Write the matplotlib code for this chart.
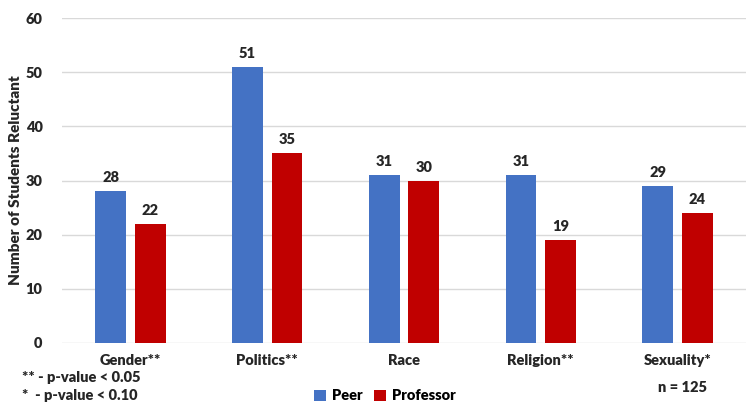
import numpy as np
import matplotlib.pyplot as plt

categories = ['Gender**', 'Politics**', 'Race', 'Religion**', 'Sexuality*']
peer = [28, 51, 31, 31, 29]
professor = [22, 35, 30, 19, 24]

plt.rcParams['font.family'] = ['Lato', 'DejaVu Sans']

fig = plt.figure(figsize=(7.46, 4.03), dpi=100)
ax = fig.add_axes([62/746, 1 - 343/403, 684/746, 325/403])

x = np.arange(len(categories))
w = 0.225
gap = 0.065
off = (w + gap) / 2
b1 = ax.bar(x - off, peer, w, color='#4472C4', label='Peer', zorder=3)
b2 = ax.bar(x + off, professor, w, color='#C00000', label='Professor', zorder=3)

for rects, vals in ((b1, peer), (b2, professor)):
    for r, v in zip(rects, vals):
        ax.annotate(str(v), xy=(r.get_x() + r.get_width() / 2, r.get_height()),
                    xytext=(0, 5), textcoords='offset points',
                    ha='center', va='bottom', fontsize=10.5, fontweight='heavy', color='#262626')

ax.set_xlim(-0.5, len(categories) - 0.5)
ax.set_ylim(0, 60)
ax.set_yticks(range(0, 61, 10))
ax.yaxis.grid(True, color='#d9d9d9', linewidth=1, zorder=0)
ax.set_axisbelow(True)
for s in ax.spines.values():
    s.set_visible(False)
ax.tick_params(axis='both', length=0, labelsize=10.5, labelcolor='#262626')
ax.tick_params(axis='y', pad=14)
ax.tick_params(axis='x', pad=8)
ax.set_xticks(x)
ax.set_xticklabels(categories, fontweight='heavy')
for t in ax.get_yticklabels():
    t.set_fontweight('heavy')
ax.set_ylabel('Number of Students Reluctant', fontsize=11, fontweight='heavy', color='#262626')
ax.yaxis.set_label_coords(-40/684, 0.5)

ax.legend(loc='center', bbox_to_anchor=(385/746, 1 - 396/403), bbox_transform=fig.transFigure,
          ncol=2, frameon=False, prop={'weight': 'heavy', 'size': 10.5},
          handlelength=0.8, handleheight=0.8, handletextpad=0.4, columnspacing=0.8)

fig.text(22/746, 1 - 377/403, '** - p-value < 0.05', fontsize=10.5, fontweight='heavy', color='#262626', va='center')
fig.text(22/746, 1 - 395/403, '*  - p-value < 0.10', fontsize=10.5, fontweight='heavy', color='#262626', va='center')
fig.text(683/746, 1 - 388/403, 'n = 125', fontsize=10.5, fontweight='heavy', color='#262626', va='center', ha='center')

fig.savefig('out.png', dpi=100)
